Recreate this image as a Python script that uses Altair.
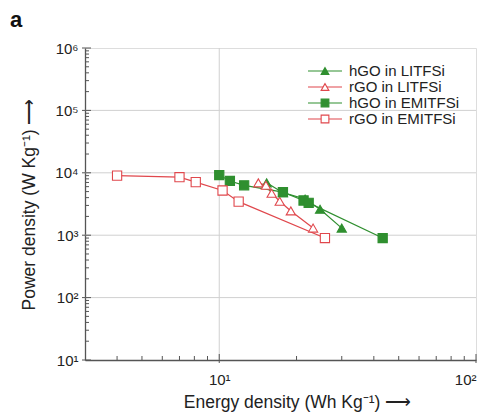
import altair as alt
import pandas as pd

# Ragone data: energy density (Wh/kg) vs power density (W/kg)
series_names = ["hGO in LITFSi", "rGO in LITFSi", "hGO in EMITFSi", "rGO in EMITFSi"]

hgo_li_energy = [15.3, 17.7, 21.6, 24.7, 30.0]
hgo_li_power = [6900, 4800, 3800, 2600, 1300]

rgo_li_energy = [14.2, 15.2, 16.0, 17.2, 19.0, 23.2]
rgo_li_power = [6900, 6300, 4700, 3500, 2450, 1300]

hgo_em_energy = [10.0, 11.0, 12.5, 17.7, 21.3, 22.3, 43.3]
hgo_em_power = [9200, 7400, 6300, 4900, 3600, 3300, 900]

rgo_em_energy = [4.0, 7.0, 8.1, 10.3, 11.9, 25.8]
rgo_em_power = [9000, 8500, 7100, 5200, 3450, 900]

x_decades = [10, 100]
y_decades = [10, 100, 1000, 10000, 100000, 1000000]
x_minor = [4, 5, 6, 7, 8, 9, 20, 30, 40, 50, 60, 70, 80, 90]
y_minor = [m * 10 ** k for k in range(1, 6) for m in range(2, 10)]

panel_label = ["a"]

GREEN = "#2f8f2f"
RED = "#e0474c"
colors = [GREEN, RED, GREEN, RED]
fills = [GREEN, "white", GREEN, "white"]
shapes = ["triangle-up", "triangle-up", "square", "square"]

rows = []
for name, xs, ys in zip(series_names,
                        [hgo_li_energy, rgo_li_energy, hgo_em_energy, rgo_em_energy],
                        [hgo_li_power, rgo_li_power, hgo_em_power, rgo_em_power]):
    for i, (e, p) in enumerate(zip(xs, ys)):
        rows.append({"series": name, "energy": e, "power": p, "idx": i})
df = pd.DataFrame(rows)

W, H = 391, 312
FONT = "Liberation Sans"

xscale = alt.Scale(type="log", domain=[3, 100], nice=False)
yscale = alt.Scale(type="log", domain=[10, 1000000], nice=False)
cscale = alt.Scale(domain=series_names, range=colors)
fscale = alt.Scale(domain=series_names, range=fills)
sscale = alt.Scale(domain=series_names, range=shapes)

sup = "{'10': '10¹', '100': '10²', '1000': '10³', '10000': '10⁴', '100000': '10⁵', '1000000': '10⁶'}"
label_expr = f"{sup}[format(datum.value, 'd')] || ''"

x_axis = alt.Axis(values=x_decades, labelExpr=label_expr, grid=False, ticks=False,
                  domainColor="#555", domainWidth=1.3, labelFont=FONT, labelFontSize=15,
                  labelColor="#222", labelPadding=12, title="Energy density (Wh Kg⁻¹)  ⟶",
                  titleFont=FONT, titleFontSize=17.5, titleFontWeight="normal",
                  titleColor="#222", titlePadding=6, titleX=212)
y_axis = alt.Axis(values=y_decades, labelExpr=label_expr, grid=False, ticks=False,
                  domainColor="#555", domainWidth=1.3, labelFont=FONT, labelFontSize=15,
                  labelColor="#222", labelPadding=7, title="Power density (W Kg⁻¹)    ⟶",
                  titleFont=FONT, titleFontSize=17.5, titleFontWeight="normal",
                  titleColor="#222", titlePadding=16)

base = alt.Chart(df)

lines = base.mark_line(strokeWidth=1.2).encode(
    x=alt.X("energy:Q", scale=xscale, axis=x_axis),
    y=alt.Y("power:Q", scale=yscale, axis=y_axis),
    color=alt.Color("series:N", scale=cscale, legend=None),
    order="idx:Q",
)

points = base.mark_point(filled=True, size=85, strokeWidth=1.1, opacity=1).encode(
    x=alt.X("energy:Q", scale=xscale),
    y=alt.Y("power:Q", scale=yscale),
    fill=alt.Fill("series:N", scale=fscale, legend=None),
    stroke=alt.Stroke("series:N", scale=cscale, legend=None),
    shape=alt.Shape("series:N", scale=sscale, legend=None),
)

vgrid = alt.Chart(pd.DataFrame({"v": [10]})).mark_rule(color="#d0d0d0", strokeWidth=1).encode(
    x=alt.X("v:Q", scale=xscale)
)
hgrid = alt.Chart(pd.DataFrame({"v": [100, 1000, 10000, 100000]})).mark_rule(
    color="#d0d0d0", strokeWidth=1).encode(y=alt.Y("v:Q", scale=yscale))

tick_color = "#555"
x_minor_ticks = alt.Chart(pd.DataFrame({"v": x_minor})).mark_rule(color=tick_color, strokeWidth=1).encode(
    x=alt.X("v:Q", scale=xscale), y=alt.value(H), y2=alt.value(H - 4))
x_major_ticks = alt.Chart(pd.DataFrame({"v": x_decades})).mark_rule(color=tick_color, strokeWidth=1).encode(
    x=alt.X("v:Q", scale=xscale), y=alt.value(H + 3), y2=alt.value(H - 6))
y_minor_ticks = alt.Chart(pd.DataFrame({"v": y_minor})).mark_rule(color=tick_color, strokeWidth=1).encode(
    y=alt.Y("v:Q", scale=yscale), x=alt.value(0), x2=alt.value(4))
y_major_ticks = alt.Chart(pd.DataFrame({"v": y_decades})).mark_rule(color=tick_color, strokeWidth=1).encode(
    y=alt.Y("v:Q", scale=yscale), x=alt.value(-3), x2=alt.value(6))

main = alt.layer(vgrid, hgrid, lines, points,
                 x_minor_ticks, x_major_ticks, y_minor_ticks, y_major_ticks)

# Legend drawn as its own layer: line segment + marker + label per series
leg_df = pd.DataFrame({"series": series_names})
leg_y = alt.Y("series:N", scale=alt.Scale(type="point", domain=series_names, range=[23, 71], padding=0),
              axis=None)
leg_line = alt.Chart(leg_df).mark_rule(strokeWidth=1.2).encode(
    y=leg_y, x=alt.value(223), x2=alt.value(257),
    color=alt.Color("series:N", scale=cscale, legend=None))
leg_pt = alt.Chart(leg_df).mark_point(filled=True, size=60, strokeWidth=1.1, opacity=1).encode(
    y=leg_y, x=alt.value(240),
    fill=alt.Fill("series:N", scale=fscale, legend=None),
    stroke=alt.Stroke("series:N", scale=cscale, legend=None),
    shape=alt.Shape("series:N", scale=sscale, legend=None))
leg_txt = alt.Chart(leg_df).mark_text(align="left", baseline="middle", font=FONT,
                                      fontSize=15, color="#222").encode(
    y=leg_y, x=alt.value(264), text="series:N")

# Panel letter in the top-left corner
panel = alt.Chart(pd.DataFrame({"t": panel_label})).mark_text(
    align="left", baseline="alphabetic", font=FONT, fontSize=22, fontWeight="bold",
    color="#111").encode(text="t:N", x=alt.value(-75), y=alt.value(-21))

legend = alt.layer(leg_line, leg_pt, leg_txt, panel)

chart = alt.layer(main, legend).resolve_scale(y="independent").properties(
    width=W, height=H,
    autosize=alt.AutoSizeParams(type="none"),
    padding={"left": 85, "top": 48, "right": 10, "bottom": 54},
).configure_view(stroke=None).configure(background="white")

chart.save("out.html", embed_options={"renderer": "svg", "actions": False})
